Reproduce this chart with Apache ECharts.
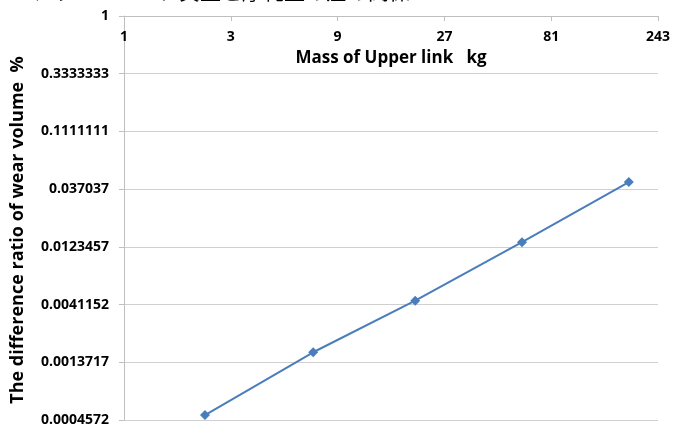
<!DOCTYPE html>
<html>
<head>
<meta charset="utf-8">
<script src="https://cdn.jsdelivr.net/npm/echarts@6/dist/echarts.min.js"></script>
<style>
  html, body { margin: 0; padding: 0; background: #fff; }
  #chart { width: 673px; height: 428px; }
</style>
</head>
<body>
<div id="chart"></div>
<script>
// mass of upper link (kg) vs difference ratio of wear volume (%)
const massKg = [2.3, 7, 20, 60, 180];
const wearRatio = [0.000502, 0.00166, 0.00443, 0.0135, 0.0424];

// tick labels as printed on the axes (log base 3)
const xTickLabels = ['1', '3', '9', '27', '81', '243'];
const yTickLabels = ['1', '0.3333333', '0.1111111', '0.037037', '0.0123457', '0.0041152', '0.0013717', '0.0004572'];

const headerText = 'アッパーリンク質量と摩耗量の差の関係';

const chart = echarts.init(document.getElementById('chart'));

const lbl = { fontFamily: 'Open Sans', fontWeight: 'bold', fontSize: 14, color: '#000' };

// index of a power of 3
function pow3Index(v) {
    return Math.round(Math.log(v) / Math.log(3));
}

const options = {
    animation: false,
    graphic: [
        {
            type: 'text',
            left: 32,
            top: -19,
            style: { text: headerText, font: '21px "Noto Sans CJK JP"', fill: '#000' }
        }
    ],
    grid: { left: 124, right: 15, top: 16, bottom: 8 },
    xAxis: {
        type: 'log',
        logBase: 3,
        min: 1,
        max: 243,
        position: 'top',
        name: 'Mass of Upper link   kg',
        nameLocation: 'middle',
        nameGap: -51,
        nameTextStyle: { fontFamily: 'Open Sans', fontWeight: 'bold', fontSize: 17, color: '#000' },
        axisLine: { lineStyle: { color: '#bfbfbf' } },
        axisTick: { show: true, inside: true, length: 5, lineStyle: { color: '#bfbfbf' } },
        axisLabel: Object.assign({}, lbl, {
            inside: true,
            margin: 14,
            formatter: v => xTickLabels[pow3Index(v)]
        }),
        splitLine: { show: false },
        minorTick: { show: false }
    },
    yAxis: {
        type: 'log',
        logBase: 3,
        min: Math.pow(3, -7),
        max: 1,
        name: 'The difference ratio of wear volume  %',
        nameLocation: 'middle',
        nameGap: 97,
        nameTextStyle: { fontFamily: 'Open Sans', fontWeight: 'bold', fontSize: 18, color: '#000', padding: [0, 24, 0, 0] },
        axisLine: { show: true, lineStyle: { color: '#bfbfbf' } },
        axisTick: { show: true, length: 5, lineStyle: { color: '#bfbfbf' } },
        axisLabel: Object.assign({}, lbl, {
            margin: 15,
            formatter: v => yTickLabels[-pow3Index(v)]
        }),
        splitLine: { show: true, lineStyle: { color: '#d0d0d0' } }
    },
    series: [
        {
            type: 'line',
            data: massKg.map((m, i) => [m, wearRatio[i]]),
            symbol: 'diamond',
            symbolSize: 10,
            lineStyle: { color: '#4a7ebb', width: 2 },
            itemStyle: { color: '#4a7ebb' }
        }
    ]
};

chart.setOption(options);
</script>
</body>
</html>
